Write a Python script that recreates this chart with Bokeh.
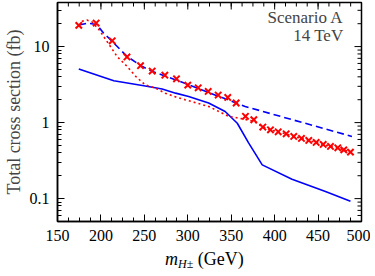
import math
from bokeh.plotting import figure
from bokeh.layouts import column
from bokeh.models import (Range1d, FixedTicker, Label, BasicTickFormatter, Div,
                          GlobalInlineStyleSheet)
from bokeh.embed import file_html
from bokeh.resources import INLINE

# ---- data ----
cross_mass = [174.5, 194.5, 213, 230, 245.6, 259, 273.6, 287, 300, 312, 323.5,
              335, 346, 355.7, 366.4, 376, 386.4, 395.2, 404.1, 413.3, 422,
              430.9, 439.3, 447.8, 455.9, 464.3, 472.7, 479.6, 487.3]
cross_xsec = [19.0, 20.4, 11.9, 7.3, 5.6, 4.76, 4.2, 3.77, 3.11, 2.87, 2.57,
              2.3, 2.14, 1.81, 1.21, 1.09, 0.873, 0.804, 0.757, 0.712, 0.658,
              0.619, 0.583, 0.548, 0.516, 0.486, 0.466, 0.438, 0.409]

dashed_mass = [175, 185, 195, 203, 213, 230, 246, 259, 284, 366, 489]
dashed_xsec = [19.2, 20.3, 19.5, 15.1, 11.7, 7.43, 5.59, 4.72, 3.73, 1.63, 0.658]

solid_mass = [174.5, 214.8, 249.4, 270.5, 286, 301, 324, 343, 357, 370,
              385.7, 420, 458.5, 487.3]
solid_xsec = [5.06, 3.55, 3.05, 2.76, 2.44, 2.21, 1.81, 1.40, 0.98, 0.54,
              0.278, 0.18, 0.124, 0.092]

dotted_mass = [178, 184, 190, 198, 209, 219, 230, 240, 251, 263, 274, 284,
               297, 324, 347, 363, 376, 386.4, 395.2, 404.1, 413.3, 422,
               430.9, 439.3, 447.8, 455.9, 464.3, 472.7, 479.6, 487.3]
dotted_xsec = [21.5, 22.3, 21.0, 16.6, 10.8, 7.3, 5.5, 4.05, 3.14, 2.84, 2.44,
               2.21, 2.0, 1.63, 1.21, 1.12, 1.04, 0.873, 0.804, 0.757, 0.712,
               0.658, 0.619, 0.583, 0.548, 0.516, 0.486, 0.466, 0.438, 0.409]

x_ticks = [150, 200, 250, 300, 350, 400, 450, 500]
y_ticks = [0.1, 1, 10]
x_lo, x_hi = 150, 500
y_lo, y_hi = 0.05, 38

FONT = "Liberation Serif"
BLUE = "#0000ff"
RED = "#ff0000"

H = 250
p = figure(frame_width=304, height=H, output_backend="svg",
           toolbar_location=None, y_axis_type="log",
           x_range=Range1d(x_lo, x_hi), y_range=Range1d(y_lo, y_hi),
           min_border_left=54, min_border_right=9, min_border_top=2,
           min_border_bottom=29, margin=0)
p.background_fill_color = "white"
p.border_fill_color = "white"
p.grid.visible = False
p.outline_line_color = "black"
p.outline_line_width = 1.5

minor_y = [m * 10 ** e for e in (-2, -1, 0, 1) for m in range(2, 10)]
minor_y = [v for v in minor_y if y_lo <= v <= y_hi]
yticker = FixedTicker(ticks=y_ticks, minor_ticks=minor_y)
minor_x = [x_lo + 12.5 * i for i in range(29)]
xticker = FixedTicker(ticks=x_ticks, minor_ticks=minor_x)

for ax in (p.xaxis[0], p.yaxis[0]):
    ax.axis_line_color = "black"
    ax.axis_line_width = 1.5
    ax.major_tick_in = 7
    ax.major_tick_out = 0
    ax.minor_tick_in = 4
    ax.minor_tick_out = 0
    ax.major_tick_line_width = 1
    ax.minor_tick_line_width = 1
    ax.major_label_text_font = FONT
    ax.major_label_text_color = "black"
    ax.major_label_text_font_size = "16px"

p.xaxis.ticker = xticker
p.yaxis.ticker = yticker
p.xaxis.major_label_standoff = 8
p.yaxis.major_label_standoff = 8
p.yaxis.formatter = BasicTickFormatter(use_scientific=False)
p.yaxis.axis_label = "Total cross section (fb)"
p.yaxis.axis_label_text_font = FONT
p.yaxis.axis_label_text_font_size = "18px"
p.yaxis.axis_label_text_font_style = "normal"
p.yaxis.axis_label_standoff = 3

# mirrored ticks on the top and right edges (half of each dash is clipped by the frame)
p.scatter(x_ticks, [y_hi] * len(x_ticks), marker="dash", angle=math.pi / 2,
          size=14, line_color="black", line_width=1)
p.scatter(minor_x, [y_hi] * len(minor_x), marker="dash", angle=math.pi / 2,
          size=8, line_color="black", line_width=1)
p.scatter([x_hi] * len(y_ticks), y_ticks, marker="dash",
          size=14, line_color="black", line_width=1)
p.scatter([x_hi] * len(minor_y), minor_y, marker="dash",
          size=8, line_color="black", line_width=1)

# curves
p.line(dashed_mass, dashed_xsec, line_color=BLUE, line_width=1.6, line_dash="7 4")
p.line(solid_mass, solid_xsec, line_color=BLUE, line_width=1.6)
p.line(dotted_mass, dotted_xsec, line_color=RED, line_width=1.6, line_dash="2 3")
p.scatter(cross_mass, cross_xsec, marker="x", size=9, line_color=RED, line_width=2)

# annotation (canvas units, y measured from the top)
t1 = Label(x=343, y=17, x_units="canvas", y_units="canvas", text="Scenario A",
           text_font=FONT, text_font_size="17px", text_align="right",
           text_baseline="alphabetic")
t2 = Label(x=343, y=35, x_units="canvas", y_units="canvas", text="14 TeV",
           text_font=FONT, text_font_size="17px", text_align="right",
           text_baseline="alphabetic")
p.add_layout(t1)
p.add_layout(t2)

# x-axis title: italic m with subscript H±, then (GeV)
xlabel = Div(
    text=('<div style="margin-left:165px;font-family:\'Liberation Serif\';'
          'font-size:18px;line-height:18px;white-space:nowrap;color:black">'
          '<i>m</i><span style="font-size:12px;position:relative;top:3px">'
          '<i>H</i>±</span>&nbsp;(GeV)</div>'),
    width=367, height=18, margin=0)

page_css = GlobalInlineStyleSheet(css="body { overflow: hidden; }")
layout = column(p, xlabel, spacing=0, margin=0, stylesheets=[page_css])
open("out.html", "w").write(file_html(layout, INLINE))
